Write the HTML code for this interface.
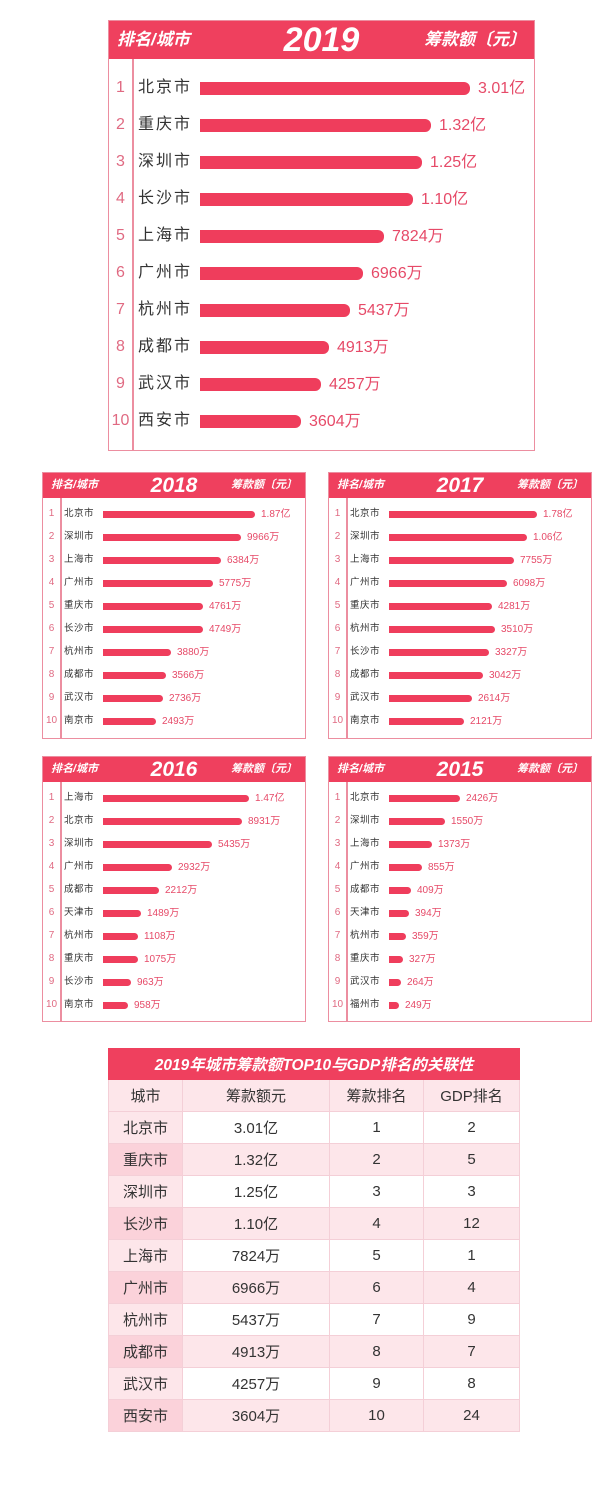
<!DOCTYPE html>
<html><head><meta charset="utf-8">
<style>
body{margin:0;width:600px;height:1490px;background:#fff;position:relative;overflow:hidden;font-family:"Liberation Sans","Noto Sans CJK SC",sans-serif}
.a{position:absolute}
.box{position:absolute;border:1.5px solid #ec8ea0;box-sizing:border-box;background:#fff}
.hd{position:absolute;left:0;top:0;right:0;background:#ef405e;color:#fff;font-weight:bold;font-style:italic}
.dv{position:absolute;width:1.5px;background:#ec8ea0;bottom:0}
.bar{position:absolute;background:#ef3d5c;border-radius:0 6px 6px 0}
.val{position:absolute;color:#e64a68;white-space:nowrap}
.city{position:absolute;color:#333;white-space:nowrap}
.rk{position:absolute;color:#e06a82;text-align:center}
table{position:absolute;left:108px;top:1048px;width:412px;border-collapse:collapse;font-size:15px;color:#333}
td{border:1.5px solid #f4cfd7;text-align:center;height:31px;padding:0}
</style></head><body>
<div id="root"></div>
<table>
<tr><td colspan="4" style="background:#ef405e;color:#fff;font-weight:bold;font-style:italic;font-size:15.5px;height:30px;border-color:#ef405e">2019年城市筹款额TOP10与GDP排名的关联性</td></tr>
<tr style="background:#fde6ea"><td style="width:73px">城市</td><td style="width:146px">筹款额元</td><td style="width:93px">筹款排名</td><td>GDP排名</td></tr>
<tr><td style="background:#fde6ea">北京市</td><td>3.01亿</td><td>1</td><td>2</td></tr>
<tr style="background:#fde6ea"><td style="background:#fbd2da">重庆市</td><td>1.32亿</td><td>2</td><td>5</td></tr>
<tr><td style="background:#fde6ea">深圳市</td><td>1.25亿</td><td>3</td><td>3</td></tr>
<tr style="background:#fde6ea"><td style="background:#fbd2da">长沙市</td><td>1.10亿</td><td>4</td><td>12</td></tr>
<tr><td style="background:#fde6ea">上海市</td><td>7824万</td><td>5</td><td>1</td></tr>
<tr style="background:#fde6ea"><td style="background:#fbd2da">广州市</td><td>6966万</td><td>6</td><td>4</td></tr>
<tr><td style="background:#fde6ea">杭州市</td><td>5437万</td><td>7</td><td>9</td></tr>
<tr style="background:#fde6ea"><td style="background:#fbd2da">成都市</td><td>4913万</td><td>8</td><td>7</td></tr>
<tr><td style="background:#fde6ea">武汉市</td><td>4257万</td><td>9</td><td>8</td></tr>
<tr style="background:#fde6ea"><td style="background:#fbd2da">西安市</td><td>3604万</td><td>10</td><td>24</td></tr>
</table>
<script>
function panel(x,y,w,h,big,year,rows){
 var s=big?{hh:38,dv:23,rkw:23,cx:29,cf:16,bx:91,bh:13,vf:16,y0:67,sp:37,hf:17,yf:34}:{hh:25,dv:17,rkw:17,cx:21,cf:9.5,bx:60,bh:7,vf:10,y0:41,sp:23,hf:11,yf:21};
 var o='<div class="box" style="left:'+x+'px;top:'+y+'px;width:'+w+'px;height:'+h+'px">';
 o+='<div class="hd" style="height:'+s.hh+'px"><span class="a" style="left:8px;top:0;line-height:'+s.hh+'px;font-size:'+s.hf+'px">排名/城市</span><span class="a" style="left:0;right:0;text-align:center;top:0;line-height:'+s.hh+'px;font-size:'+s.yf+'px;font-family:\'Liberation Sans\',sans-serif">'+year+'</span><span class="a" style="right:8px;top:0;line-height:'+s.hh+'px;font-size:'+s.hf+'px">筹款额〔元〕</span></div>';
 o+='<div class="dv" style="left:'+s.dv+'px;top:'+s.hh+'px"></div>';
 for(var i=0;i<rows.length;i++){var r=rows[i],cy=s.y0+i*s.sp;
  o+='<div class="rk" style="left:0;width:'+s.rkw+'px;top:'+(cy-s.vf*0.6)+'px;font-size:'+s.vf+'px;line-height:'+(s.vf*1.2)+'px">'+(i+1)+'</div>';
  o+='<div class="city" style="left:'+s.cx+'px;top:'+(cy-s.cf*0.65)+'px;font-size:'+s.cf+'px;line-height:'+(s.cf*1.3)+'px;letter-spacing:'+(big?2:0.5)+'px">'+r[0]+'</div>';
  o+='<div class="bar" style="left:'+s.bx+'px;top:'+(cy-s.bh/2)+'px;height:'+s.bh+'px;width:'+(r[2]-x-s.bx)+'px"></div>';
  o+='<div class="val" style="left:'+(r[2]-x+(big?8:6))+'px;top:'+(cy-s.vf*0.55)+'px;font-size:'+s.vf+'px;line-height:'+(s.vf*1.2)+'px">'+r[1]+'</div>';
 }
 return o+'</div>';
}
var H='';
H+=panel(108,20,427,431,1,'2019',[['北京市','3.01亿',469],['重庆市','1.32亿',430],['深圳市','1.25亿',421],['长沙市','1.10亿',412],['上海市','7824万',383],['广州市','6966万',362],['杭州市','5437万',349],['成都市','4913万',328],['武汉市','4257万',320],['西安市','3604万',300]]);
H+=panel(42,472,264,267,0,'2018',[['北京市','1.87亿',254],['深圳市','9966万',240],['上海市','6384万',220],['广州市','5775万',212],['重庆市','4761万',202],['长沙市','4749万',202],['杭州市','3880万',170],['成都市','3566万',165],['武汉市','2736万',162],['南京市','2493万',155]]);
H+=panel(328,472,264,267,0,'2017',[['北京市','1.78亿',536],['深圳市','1.06亿',526],['上海市','7755万',513],['广州市','6098万',506],['重庆市','4281万',491],['杭州市','3510万',494],['长沙市','3327万',488],['成都市','3042万',482],['武汉市','2614万',471],['南京市','2121万',463]]);
H+=panel(42,756,264,266,0,'2016',[['上海市','1.47亿',248],['北京市','8931万',241],['深圳市','5435万',211],['广州市','2932万',171],['成都市','2212万',158],['天津市','1489万',140],['杭州市','1108万',137],['重庆市','1075万',137],['长沙市','963万',130],['南京市','958万',127]]);
H+=panel(328,756,264,266,0,'2015',[['北京市','2426万',459],['深圳市','1550万',444],['上海市','1373万',431],['广州市','855万',421],['成都市','409万',410],['天津市','394万',408],['杭州市','359万',405],['重庆市','327万',402],['武汉市','264万',400],['福州市','249万',398]]);
document.getElementById('root').innerHTML=H;
</script>
</body></html>
